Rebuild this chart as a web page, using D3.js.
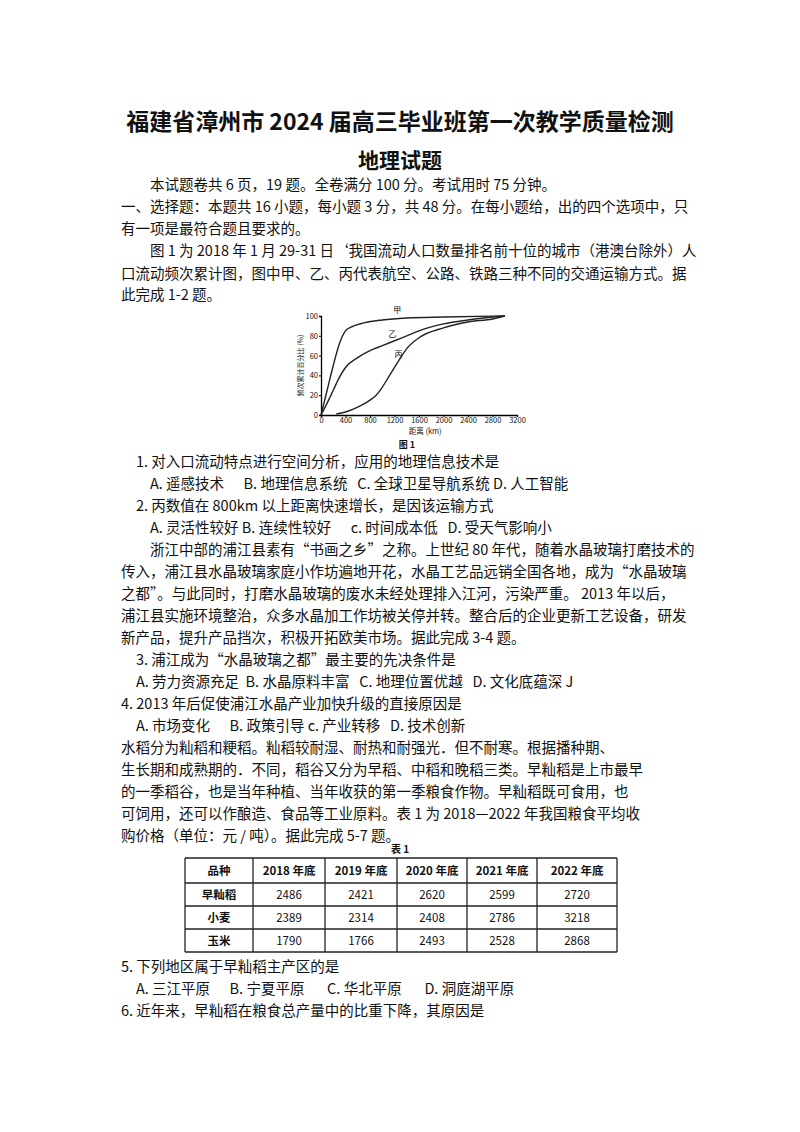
<!DOCTYPE html>
<html><head><meta charset="utf-8">
<script src="https://cdn.jsdelivr.net/npm/d3@7"></script>
<style>body{margin:0;background:#fff}text{font-family:"Noto Sans CJK SC","Liberation Serif",serif;fill:#111}</style>
</head><body><div id="page"></div>
<script>
// curve data: distance km, cumulative %
const jia = [[0,0],[100,25],[200,50],[300,72],[400,85],[500,89],[700,93],[1000,96],[1400,98],[2000,99],[3000,100]];
const yi = [[0,0],[100,12],[200,25],[300,38],[400,48],[600,58],[800,65],[1000,70],[1200,75],[1400,80],[1600,85],[2000,92],[2400,96],[3000,100]];
const bing = [[250,1],[400,3],[600,8],[800,15],[900,20],[1000,28],[1100,38],[1200,48],[1300,58],[1400,67],[1600,78],[2000,88],[2400,94],[2800,97],[3000,100]];
const xTicks = [0,400,800,1200,1600,2000,2400,2800,3200];
const yTicks = [0,20,40,60,80,100];

const tableHead = ["品种","2018 年底","2019 年底","2020 年底","2021 年底","2022 年底"];
const crops = ["早籼稻","小麦","玉米"];
const prices = [[2486,2421,2620,2599,2720],[2389,2314,2408,2786,3218],[1790,1766,2493,2528,2868]];

const lines = [
  [150,190,"本试题卷共 6 页，19 题。全卷满分 100 分。考试用时 75 分钟。"],
  [121,212,"一、选择题：本题共 16 小题，每小题 3 分，共 48 分。在每小题给，出的四个选项中，只"],
  [121,234,"有一项是最符合题且要求的。"],
  [150,256,"图 1 为 2018 年 1 月 29-31 日‘我国流动人口数量排名前十位的城市（港澳台除外）人"],
  [121,279,"口流动频次累计图，图中甲、乙、丙代表航空、公路、铁路三种不同的交通运输方式。据"],
  [121,300,"此完成 1-2 题。"],
  [136,467,"1. 对入口流动特点进行空间分析，应用的地理信息技术是"],
  [150,489,"A. 遥感技术      B. 地理信息系统   C. 全球卫星导航系统 D. 人工智能"],
  [136,511,"2. 丙数值在 800km 以上距离快速增长，是因该运输方式"],
  [150,533,"A. 灵活性较好 B. 连续性较好      c. 时间成本低   D. 受天气影响小"],
  [150,555,"浙江中部的浦江县素有“书画之乡”之称。上世纪 80 年代，随着水晶玻璃打磨技术的"],
  [121,577,"传入，浦江县水晶玻璃家庭小作坊遍地开花，水晶工艺品远销全国各地，成为“水晶玻璃"],
  [121,599,"之都”。与此同时，打磨水晶玻璃的废水未经处理排入江河，污染严重。 2013 年以后，"],
  [121,621,"浦江县实施环境整治，众多水晶加工作坊被关停并转。整合后的企业更新工艺设备，研发"],
  [121,643,"新产品，提升产品挡次，积极开拓欧美市场。据此完成 3-4 题。"],
  [136,665,"3. 浦江成为“水晶玻璃之都”最主要的先决条件是"],
  [136,687,"A. 劳力资源充足  B. 水晶原料丰富   C. 地理位置优越   D. 文化底蕴深 J"],
  [121,709,"4. 2013 年后促使浦江水晶产业加快升级的直接原因是"],
  [136,731,"A. 市场变化      B. 政策引导 c. 产业转移   D. 技术创新"],
  [121,753,"水稻分为籼稻和粳稻。籼稻较耐湿、耐热和耐强光．但不耐寒。根据播种期、"],
  [121,775,"生长期和成熟期的．不同，稻谷又分为早稻、中稻和晚稻三类。早籼稻是上市最早"],
  [121,797,"的一季稻谷，也是当年种植、当年收获的第一季粮食作物。早籼稻既可食用，也"],
  [121,819,"可饲用，还可以作酿造、食品等工业原料。表 1 为 2018—2022 年我国粮食平均收"],
  [121,841,"购价格（单位：元 / 吨）。据此完成 5-7 题。"],
  [121,972,"5. 下列地区属于早籼稻主产区的是"],
  [136,994,"A. 三江平原      B. 宁夏平原       C. 华北平原       D. 洞庭湖平原"],
  [121,1016,"6. 近年来，早籼稻在粮食总产量中的比重下降，其原因是"]
];

const svg = d3.select("#page").append("svg").attr("width",800).attr("height",1132);

svg.append("text").attr("x",400).attr("y",130).attr("text-anchor","middle")
  .attr("font-size",23).attr("font-weight","bold").text("福建省漳州市 2024 届高三毕业班第一次教学质量检测");
svg.append("text").attr("x",400).attr("y",168).attr("text-anchor","middle")
  .attr("font-size",21).attr("font-weight","bold").text("地理试题");

svg.selectAll("text.line").data(lines).enter().append("text").attr("class","line")
  .attr("x",d=>d[0]).attr("y",d=>d[1]).attr("font-size",14.5)
  .text(d=>d[2].replace(/ /g,"\u00a0"));

// chart
const g = svg.append("g").attr("transform","translate(321,316)");
const w = 196, h = 99;
const x = d3.scaleLinear().domain([0,3200]).range([0,w]);
const y = d3.scaleLinear().domain([0,100]).range([h,0]);
g.append("g").attr("transform",`translate(0,${h})`)
  .call(d3.axisBottom(x).tickValues(xTicks).tickFormat(d3.format("d")).tickSize(2).tickPadding(1))
  .call(a=>a.selectAll("text").attr("font-size",7.5).attr("font-family","Liberation Serif"));
g.append("g").call(d3.axisLeft(y).tickValues(yTicks).tickSize(2).tickPadding(1))
  .call(a=>a.selectAll("text").attr("font-size",7.5).attr("font-family","Liberation Serif"));
g.selectAll(".domain").attr("stroke-width",1.3);
const line = d3.line().x(d=>x(d[0])).y(d=>y(d[1])).curve(d3.curveMonotoneX);
[jia,yi,bing].forEach(s=>g.append("path").datum(s).attr("d",line)
  .attr("fill","none").attr("stroke","#222").attr("stroke-width",1.4));
g.append("text").attr("x",x(1180)).attr("y",y(103)).attr("font-size",8).text("甲");
g.append("text").attr("x",x(1100)).attr("y",y(79)).attr("font-size",8).text("乙");
g.append("text").attr("x",x(1200)).attr("y",y(59)).attr("font-size",8).text("丙");
g.append("text").attr("transform",`translate(-18,${h/2}) rotate(-90)`).attr("text-anchor","middle")
  .attr("font-size",7).text("频次累计百分比 (%)");
g.append("text").attr("x",x(1700)).attr("y",h+19).attr("text-anchor","middle").attr("font-size",7.5).text("距离 (km)");
svg.append("text").attr("x",407).attr("y",448).attr("text-anchor","middle").attr("font-size",9).attr("font-weight","bold").text("图 1");

// table
svg.append("text").attr("x",400).attr("y",853).attr("text-anchor","middle").attr("font-size",10).attr("font-weight","bold").text("表 1");
const colX = [185,253,325,397,467,537,617];
const rowY = [858,883,906,929,952];
const t = svg.append("g");
colX.forEach(cx=>t.append("line").attr("x1",cx).attr("x2",cx).attr("y1",rowY[0]).attr("y2",rowY[4]).attr("stroke","#222").attr("stroke-width",1.3));
rowY.forEach(ry=>t.append("line").attr("x1",colX[0]).attr("x2",colX[6]).attr("y1",ry).attr("y2",ry).attr("stroke","#222").attr("stroke-width",1.3));
const cells = [tableHead, ...crops.map((c,i)=>[c,...prices[i]])];
cells.forEach((row,r)=>row.forEach((v,c)=>t.append("text")
  .attr("x",(colX[c]+colX[c+1])/2).attr("y",(rowY[r]+rowY[r+1])/2+4)
  .attr("text-anchor","middle").attr("font-size",11.5).attr("font-weight",r===0||c===0?"bold":"normal").text(v)));
</script></body></html>
